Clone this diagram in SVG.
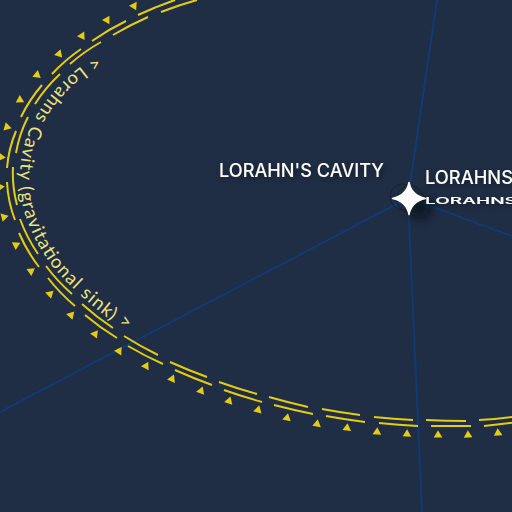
<svg xmlns="http://www.w3.org/2000/svg" width="512" height="512" viewBox="0 0 512 512">
<style>
.lane{fill:none;stroke:#113a72;stroke-width:2}
.ring{fill:none;stroke:#e6cc10;stroke-width:2;stroke-linecap:butt}
.tri{fill:#e6cc10}
.orbit{fill:#ece27e;font-family:"Lato","Open Sans",sans-serif;font-weight:400;font-size:18.500px}
.lbl{fill:#ffffff;font-family:"Inter","Open Sans",sans-serif;font-size:18px;font-weight:500;filter:url(#glow)}
.aur{fill:#ffffff;font-family:"Inter","Open Sans",sans-serif;font-size:9.500px;font-weight:600;filter:url(#glow)}
</style>
<defs>
<polygon id="t" class="tri" points="0,-4.800 4.300,2.500 -4.300,2.500"/>
<path id="orbitPath" d="M96,56C70,72 46,96 33,122C24,140 19,160 20,185C21,210 31,235 47,259C62,280 85,300 105,316C112,321 120,326 131,331"/>
<filter id="blur" x="-100%" y="-100%" width="300%" height="300%"><feGaussianBlur stdDeviation="6"/></filter>
<filter id="glow" x="-20%" y="-50%" width="140%" height="200%"><feDropShadow dx="1" dy="2" stdDeviation="3" flood-color="#0a0f1a" flood-opacity="0.45"/></filter>
</defs>
<rect width="512" height="512" fill="#1f2d45"/>
<g id="connectors">
<path class="lane" d="M408,198L437,0"/>
<path class="lane" d="M408,198L422,512"/>
<path class="lane" d="M408,198L0,412"/>
<path class="lane" d="M408,198L512,236"/>
</g>
<g id="cavity-ring">
<path class="ring" d="M7,182Q8,202 15,220M7,168Q8.500,149 16,131M21,117Q29.400,99.600 42,85M52,74Q65,60 81,49M92,41Q108,29.700 126,21M138,15Q156,6.600 175,0M19,233Q26.900,251.300 39,267M48,278Q60,293.400 75,306M85,315Q100,327.700 117,338M128,346Q145,356 163,364M175,370Q193.200,378.200 212,385M224,390Q242.800,396.700 262,402M274,405Q293.400,410 313,414M326,416Q345.400,419.500 365,422M379,423Q398.500,425 418,426M431,426L471,426M484,426Q504,424 524,421"/>
<path class="ring" d="M13,167Q12,186.500 17,205M16,153Q19.200,134 28,117M35,104Q45.600,87.400 60,74M70,64Q84.300,51.400 101,42M113,35Q130,25 148,17M161,12Q178.700,5 197,0M20,219Q26.800,237.600 38,254M46,266Q57.500,281.400 72,294M82,304Q96.600,317.200 113,328M124,336Q140.500,346.400 158,355M170,362Q188.200,370.200 207,377M219,382Q237.800,388.700 257,394M269,397Q288.400,402.500 308,407M322,409Q340.900,412.500 360,415M374,417Q393.500,419 413,420M426,420Q446,421 466,421M479,420Q499,419 519,416"/>
<use href="#t" transform="translate(134,6) rotate(153)"/>
<use href="#t" transform="translate(107,20) rotate(150)"/>
<use href="#t" transform="translate(82,36) rotate(147)"/>
<use href="#t" transform="translate(59,54) rotate(138)"/>
<use href="#t" transform="translate(37,75) rotate(130)"/>
<use href="#t" transform="translate(20,100) rotate(118)"/>
<use href="#t" transform="translate(7,127) rotate(105)"/>
<use href="#t" transform="translate(1,157) rotate(95)"/>
<use href="#t" transform="translate(0,187) rotate(85)"/>
<use href="#t" transform="translate(4,217) rotate(75)"/>
<use href="#t" transform="translate(16,245) rotate(63)"/>
<use href="#t" transform="translate(31,271) rotate(55)"/>
<use href="#t" transform="translate(50,294) rotate(47)"/>
<use href="#t" transform="translate(71,315) rotate(43)"/>
<use href="#t" transform="translate(95,334) rotate(37)"/>
<use href="#t" transform="translate(119,351) rotate(33)"/>
<use href="#t" transform="translate(146,366) rotate(28)"/>
<use href="#t" transform="translate(172,379) rotate(24)"/>
<use href="#t" transform="translate(201,391) rotate(21)"/>
<use href="#t" transform="translate(229,401) rotate(18)"/>
<use href="#t" transform="translate(258,410) rotate(15)"/>
<use href="#t" transform="translate(287,418) rotate(12)"/>
<use href="#t" transform="translate(317,424) rotate(9)"/>
<use href="#t" transform="translate(347,428) rotate(6)"/>
<use href="#t" transform="translate(377,432) rotate(4)"/>
<use href="#t" transform="translate(407,434) rotate(2)"/>
<use href="#t" transform="translate(438,435)"/>
<use href="#t" transform="translate(468,435) rotate(-2)"/>
<use href="#t" transform="translate(498,433) rotate(-4)"/>
<text class="orbit"><textPath href="#orbitPath" textLength="345" lengthAdjust="spacing">&lt; Lorahns Cavity (gravitational sink) &gt;</textPath></text>
</g>
<g id="cavity-label">
<text class="lbl" x="219" y="177" textLength="165" lengthAdjust="spacingAndGlyphs">LORAHN'S CAVITY</text>
</g>
<g id="lorahns-system">
<ellipse cx="420" cy="208" rx="10" ry="10" fill="#05070c" opacity="0.85" filter="url(#blur)"/>
<circle cx="403" cy="197" r="13" fill="none" stroke="#15161c" stroke-width="0.8" opacity="0.8"/>
<circle cx="410" cy="199" r="13.500" fill="none" stroke="#15161c" stroke-width="0.8" opacity="0.8"/>
<path d="M409,182.500Q411.500,195.500 425.500,198.500Q411.500,201.500 409,214.500Q406.500,201.500 392.500,198.500Q406.500,195.500 409,182.500Z" fill="#ffffff" stroke="#ffffff" stroke-width="1.500" stroke-linejoin="round"/>
<text class="lbl" x="425" y="184" textLength="88" lengthAdjust="spacingAndGlyphs">LORAHNS</text>
<text class="aur" x="425" y="204" textLength="92" lengthAdjust="spacingAndGlyphs">LORAHNS</text>
</g>
</svg>
